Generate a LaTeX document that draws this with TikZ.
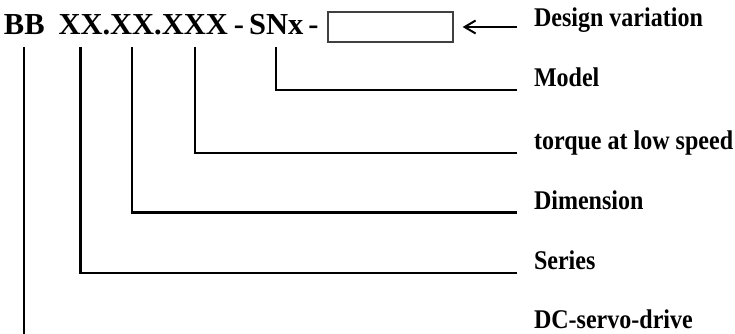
\documentclass[tikz,border=0pt]{standalone}
\usepackage{fontspec}
\setmainfont{Liberation Serif}
\newfontfamily\labelfont[FakeStretch=0.89]{Liberation Serif}
\usetikzlibrary{arrows.meta}

\tikzset{
  code/.style={inner sep=0pt, outer sep=0pt, anchor=base west,
    font=\fontsize{30.5}{34}\selectfont\bfseries},
  lbl/.style={inner sep=0pt, outer sep=0pt, anchor=base west,
    font=\labelfont\fontsize{27}{30}\selectfont\bfseries},
  varbox/.style={draw=black!75, line width=1.3pt, inner sep=0pt,
    minimum width=125pt, minimum height=30pt},
  lead/.style={line width=2.3pt},
  arr/.style={line width=2pt, -{Straight Barb[length=11pt, width=13pt, line width=2pt]}}
}

\begin{document}
\begin{tikzpicture}[x=1pt, y=-1pt]
  \useasboundingbox (0,0) rectangle (735,334);

  % type code
  \node[code] (bb) at (4,35) {BB};
  \node[code] (f1) at (58.5,35) {XX};
  \node[code] (p1) at (f1.base east) {.};
  \node[code] (f2) at (p1.base east) {XX};
  \node[code] (p2) at (f2.base east) {.};
  \node[code] (f3) at (p2.base east) {XXX};
  \node[code] (h1) at ([xshift=6pt]f3.base east) {-};
  \node[code] (mdl) at ([xshift=5pt]h1.base east) {SNx};
  \node[code] (h2) at ([xshift=5pt]mdl.base east) {-};
  \node[varbox] (var) at (390.5,27) {};

  % explanations
  \node[lbl] (design) at (534,27) {Design variation};
  \node[lbl] (model) at (534,86.5) {Model};
  \node[lbl] (torque) at (534,149.5) {torque at low speed};
  \node[lbl] (dim) at (534,209) {Dimension};
  \node[lbl] (series) at (534,269.5) {Series};
  \node[lbl] (dc) at (534,328) {DC-servo-drive};
  \coordinate (bottom) at (24,334);

  % leader lines
  \draw[arr] ([xshift=-17pt]design.base west) -- ([xshift=9pt]var.east);
  \draw[lead] ([yshift=-12pt]mdl.base) |- ([xshift=-17pt,yshift=-3.5pt]model.base west);
  \draw[lead] ([yshift=-12pt]f3.base) |- ([xshift=-17pt,yshift=-3.5pt]torque.base west);
  \draw[lead] ([yshift=-12pt]f2.base) |- ([xshift=-17pt,yshift=-3.5pt]dim.base west);
  \draw[lead] ([yshift=-12pt]f1.base) |- ([xshift=-17pt,yshift=-3.5pt]series.base west);
  \draw[lead] ([yshift=-12pt]bb.base) -- (bb.base |- bottom);
\end{tikzpicture}
\end{document}
